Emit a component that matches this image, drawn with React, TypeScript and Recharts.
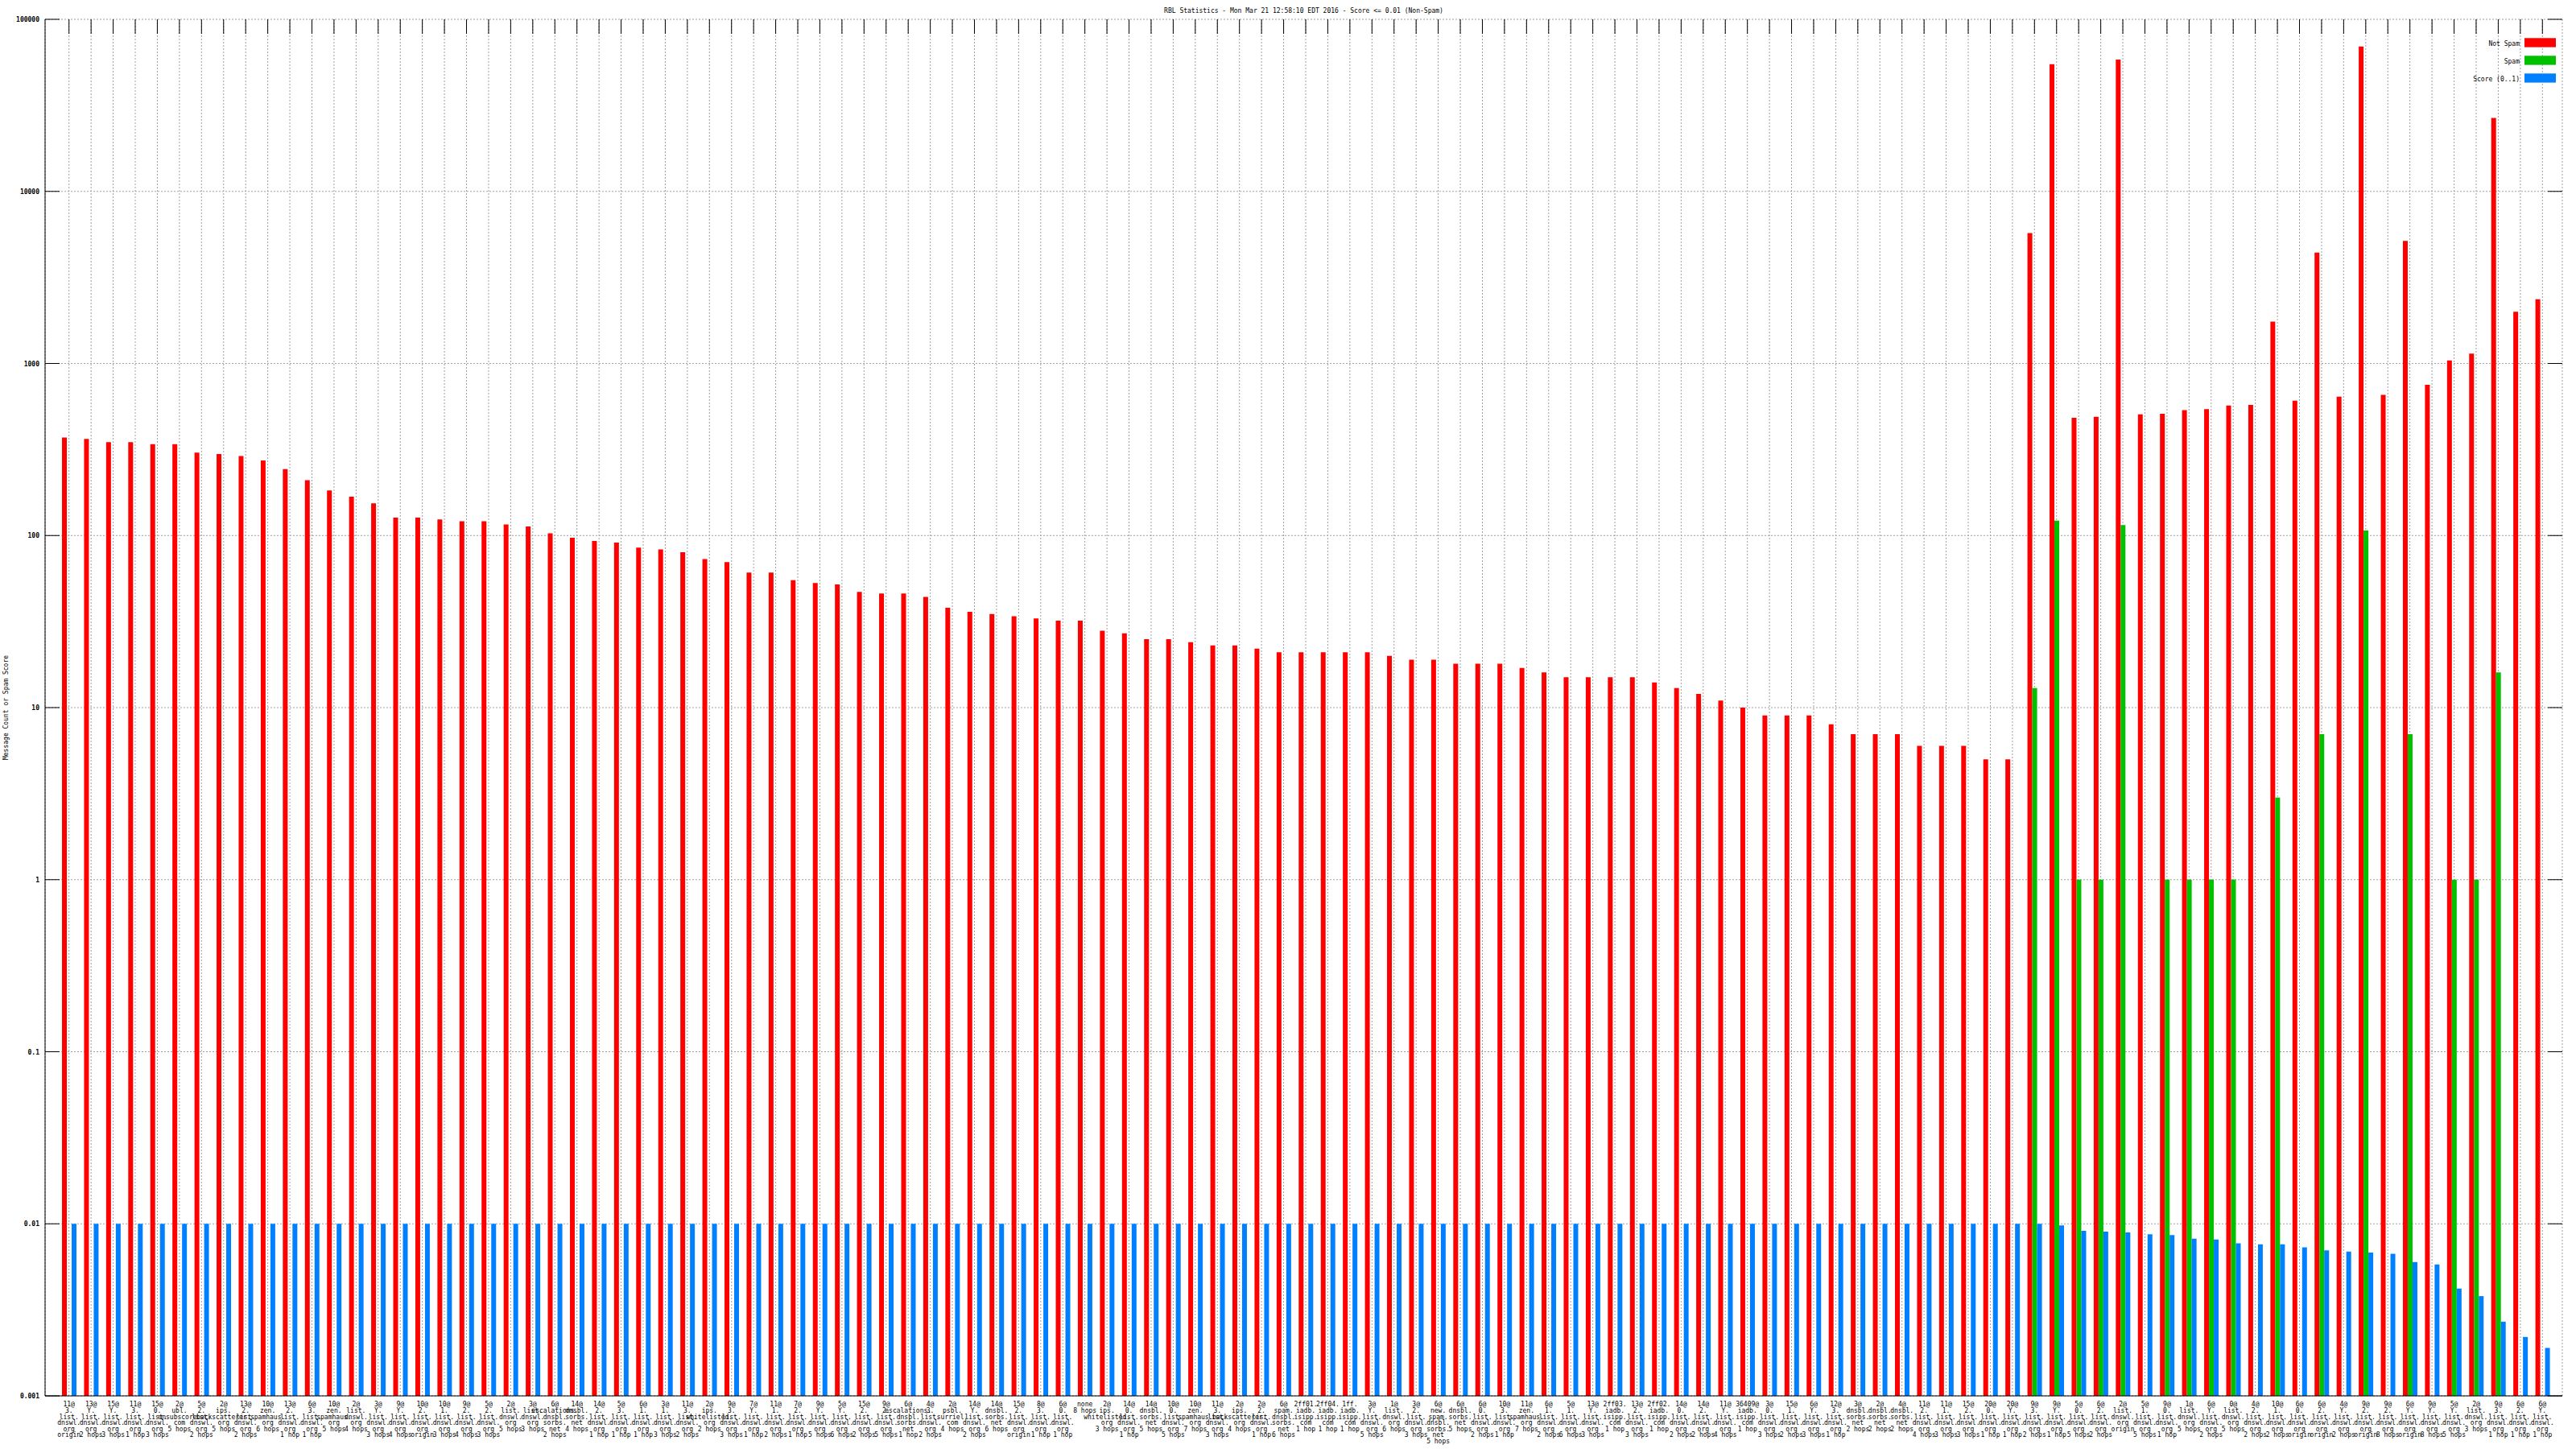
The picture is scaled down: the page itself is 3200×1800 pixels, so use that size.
import React from 'react';
import { BarChart, Bar, XAxis, YAxis, CartesianGrid } from 'recharts';

// one label per group, split into lines after "@" / "." and before the hop count
const labels = [
  '11@3.list.dnswl.org origin', '13@Y.list.dnswl.org 2 hops', '15@Y.list.dnswl.org 3 hops', '11@3.list.dnswl.org 1 hop',
  '15@0.list.dnswl.org 3 hops', '2@ubl.unsubscore.com 5 hops', '5@2.list.dnswl.org 2 hops', '2@ips.backscatterer.org 5 hops',
  '13@2.list.dnswl.org 2 hops', '10@zen.spamhaus.org 6 hops', '13@2.list.dnswl.org 1 hop', '6@3.list.dnswl.org 1 hop',
  '10@zen.spamhaus.org 5 hops', '2@list.dnswl.org 4 hops', '3@Y.list.dnswl.org 3 hops', '9@Y.list.dnswl.org 4 hops',
  '10@2.list.dnswl.org origin', '10@1.list.dnswl.org 3 hops', '9@2.list.dnswl.org 4 hops', '5@2.list.dnswl.org 3 hops',
  '2@list.dnswl.org 5 hops', '3@list.dnswl.org 3 hops', '6@escalations.dnsbl.sorbs.net 2 hops', '14@dnsbl.sorbs.net 4 hops',
  '14@2.list.dnswl.org 1 hop', '5@3.list.dnswl.org 1 hop', '6@1.list.dnswl.org 1 hop', '3@1.list.dnswl.org 3 hops',
  '11@3.list.dnswl.org 2 hops', '2@ips.whitelisted.org 2 hops', '9@3.list.dnswl.org 3 hops', '7@Y.list.dnswl.org 1 hop',
  '11@1.list.dnswl.org 2 hops', '7@2.list.dnswl.org 1 hop', '9@Y.list.dnswl.org 5 hops', '5@Y.list.dnswl.org 6 hops',
  '15@2.list.dnswl.org 2 hops', '9@2.list.dnswl.org 5 hops', '6@escalations.dnsbl.sorbs.net 1 hop', '4@3.list.dnswl.org 2 hops',
  '2@psbl.surriel.com 4 hops', '14@Y.list.dnswl.org 2 hops', '14@dnsbl.sorbs.net 6 hops', '15@2.list.dnswl.org origin',
  '8@3.list.dnswl.org 1 hop', '6@0.list.dnswl.org 1 hop', 'none 8 hops', '2@ips.whitelisted.org 3 hops',
  '14@0.list.dnswl.org 1 hop', '14@dnsbl.sorbs.net 5 hops', '10@0.list.dnswl.org 5 hops', '10@zen.spamhaus.org 7 hops',
  '11@3.list.dnswl.org 3 hops', '2@ips.backscatterer.org 4 hops', '2@2.list.dnswl.org 1 hop', '6@spam.dnsbl.sorbs.net 6 hops',
  '2ff01.iadb.isipp.com 1 hop', '2ff04.iadb.isipp.com 1 hop', '1ff.iadb.isipp.com 1 hop', '3@Y.list.dnswl.org 5 hops',
  '1@list.dnswl.org 6 hops', '3@2.list.dnswl.org 3 hops', '6@new.spam.dnsbl.sorbs.net 5 hops', '6@dnsbl.sorbs.net 5 hops',
  '6@0.list.dnswl.org 2 hops', '10@3.list.dnswl.org 1 hop', '11@zen.spamhaus.org 7 hops', '6@1.list.dnswl.org 2 hops',
  '5@1.list.dnswl.org 6 hops', '13@Y.list.dnswl.org 3 hops', '2ff03.iadb.isipp.com 1 hop', '13@2.list.dnswl.org 3 hops',
  '2ff02.iadb.isipp.com 1 hop', '14@0.list.dnswl.org 2 hops', '14@2.list.dnswl.org 2 hops', '11@Y.list.dnswl.org 4 hops',
  '36409@iadb.isipp.com 1 hop', '3@0.list.dnswl.org 3 hops', '15@1.list.dnswl.org 2 hops', '6@Y.list.dnswl.org 3 hops',
  '12@3.list.dnswl.org 1 hop', '3@dnsbl.sorbs.net 2 hops', '2@dnsbl.sorbs.net 2 hops', '4@dnsbl.sorbs.net 2 hops',
  '11@2.list.dnswl.org 4 hops', '11@1.list.dnswl.org 3 hops', '15@2.list.dnswl.org 3 hops', '20@0.list.dnswl.org 1 hop',
  '20@Y.list.dnswl.org 1 hop', '9@3.list.dnswl.org 2 hops', '9@Y.list.dnswl.org 1 hop', '5@0.list.dnswl.org 5 hops',
  '6@2.list.dnswl.org 2 hops', '2@list.dnswl.org origin', '5@1.list.dnswl.org 5 hops', '9@0.list.dnswl.org 1 hop',
  '1@list.dnswl.org 5 hops', '6@Y.list.dnswl.org 2 hops', '0@list.dnswl.org 5 hops', '4@2.list.dnswl.org 2 hops',
  '10@1.list.dnswl.org 2 hops', '6@0.list.dnswl.org origin', '6@2.list.dnswl.org origin', '4@Y.list.dnswl.org 2 hops',
  '9@2.list.dnswl.org origin', '9@2.list.dnswl.org 8 hops', '6@Y.list.dnswl.org origin', '9@Y.list.dnswl.org 8 hops',
  '5@Y.list.dnswl.org 5 hops', '2@list.dnswl.org 3 hops', '9@3.list.dnswl.org 1 hop', '6@2.list.dnswl.org 1 hop',
  '6@Y.list.dnswl.org 1 hop',
];

const notSpam = [
  371, 364, 349, 349, 340, 340, 303, 298, 290, 273, 243, 210, 183, 168, 154, 127,
  127, 124, 121, 121, 116, 113, 103, 97, 93, 91, 85, 83, 80, 73, 70, 61,
  61, 55, 53, 52, 47, 46, 46, 44, 38, 36, 35, 34, 33, 32, 32, 28,
  27, 25, 25, 24, 23, 23, 22, 21, 21, 21, 21, 21, 20, 19, 19, 18,
  18, 18, 17, 16, 15, 15, 15, 15, 14, 13, 12, 11, 10, 9, 9, 9,
  8, 7, 7, 7, 6, 6, 6, 5, 5,
  5730, 54800, 483, 490, 58400, 506, 510, 535, 543, 570, 574, 1750,
  607, 4410, 641, 69500, 657, 5160, 751, 1040, 1140, 26700, 2000, 2360,
];

const spam = [
  null, null, null, null, null, null, null, null, null, null, null, null, null, null, null, null,
  null, null, null, null, null, null, null, null, null, null, null, null, null, null, null, null,
  null, null, null, null, null, null, null, null, null, null, null, null, null, null, null, null,
  null, null, null, null, null, null, null, null, null, null, null, null, null, null, null, null,
  null, null, null, null, null, null, null, null, null, null, null, null, null, null, null, null,
  null, null, null, null, null, null, null, null, null,
  13, 122, 1, 1, 115, null, 1, 1, 1, 1, null, 3,
  null, 7, null, 107, null, 7, null, 1, 1, 16, null, null,
];

const score = [
  0.01, 0.01, 0.01, 0.01, 0.01, 0.01, 0.01, 0.01, 0.01, 0.01, 0.01, 0.01, 0.01, 0.01, 0.01, 0.01,
  0.01, 0.01, 0.01, 0.01, 0.01, 0.01, 0.01, 0.01, 0.01, 0.01, 0.01, 0.01, 0.01, 0.01, 0.01, 0.01,
  0.01, 0.01, 0.01, 0.01, 0.01, 0.01, 0.01, 0.01, 0.01, 0.01, 0.01, 0.01, 0.01, 0.01, 0.01, 0.01,
  0.01, 0.01, 0.01, 0.01, 0.01, 0.01, 0.01, 0.01, 0.01, 0.01, 0.01, 0.01, 0.01, 0.01, 0.01, 0.01,
  0.01, 0.01, 0.01, 0.01, 0.01, 0.01, 0.01, 0.01, 0.01, 0.01, 0.01, 0.01, 0.01, 0.01, 0.01, 0.01,
  0.01, 0.01, 0.01, 0.01, 0.01, 0.01, 0.01, 0.01, 0.01,
  0.01, 0.0098, 0.0091, 0.009, 0.0089, 0.0087, 0.0086, 0.0082, 0.0081, 0.0077, 0.0076, 0.0076,
  0.0073, 0.007, 0.0069, 0.0068, 0.0067, 0.006, 0.0058, 0.0042, 0.0038, 0.0027, 0.0022, 0.0019,
];

const majorTicks = [0.001, 0.01, 0.1, 1, 10, 100, 1000, 10000, 100000];
const minorTicks = [
  0.002, 0.005, 0.008, 0.02, 0.05, 0.08, 0.2, 0.5, 0.8, 2, 5, 8,
  20, 50, 80, 200, 500, 800, 2000, 5000, 8000, 20000, 50000, 80000,
];

const legendItems = [
  { name: 'Not Spam', color: '#ff0000' },
  { name: 'Spam', color: '#00c000' },
  { name: 'Score (0..1)', color: '#0080ff' },
];

const W = 3200;
const H = 1800;
const PLOT_LEFT = 56;
const PLOT_RIGHT = 3183;
const PLOT_TOP = 24;
const PLOT_BOTTOM = 1734;
const FONT = '"DejaVu Sans Mono", "Liberation Mono", monospace';

const data = labels.map((_, i) => ({
  id: String(i),
  notSpam: notSpam[i],
  spam: spam[i],
  score: score[i],
}));

const splitLabel = (s: string) => {
  const m = s.match(/^(.*) (\d+ hops?|origin)$/);
  const main = m ? m[1] : s;
  const parts = main.split(/(?<=[@.])/);
  return m ? [...parts, m[2]] : parts;
};

const XTick = (props: any) => {
  const { x, payload } = props;
  const lines = splitLabel(labels[Number(payload.value)]);
  return (
    <g>
      <line x1={x} x2={x} y1={PLOT_TOP} y2={PLOT_TOP + 18} stroke="#000" />
      <text textAnchor="middle" fontSize={8} fontFamily={FONT} fill="#000">
        {lines.map((l, k) => (
          <tspan key={k} x={x} y={PLOT_BOTTOM + 13.3 + k * 7.6}>{l}</tspan>
        ))}
      </text>
    </g>
  );
};

const YTick = (props: any) => {
  const { y, payload } = props;
  return (
    <g>
      <line x1={PLOT_LEFT} x2={PLOT_LEFT + 18} y1={y} y2={y} stroke="#000" />
      <line x1={PLOT_RIGHT} x2={PLOT_RIGHT - 18} y1={y} y2={y} stroke="#000" />
      <text x={PLOT_LEFT - 7} y={y + 3} textAnchor="end" fontSize={8} fontWeight="bold" fontFamily={FONT} fill="#000">
        {String(payload.value)}
      </text>
    </g>
  );
};

const MinorTick = (props: any) => {
  const { y } = props;
  return (
    <g>
      <line x1={PLOT_LEFT} x2={PLOT_LEFT + 9} y1={y} y2={y} stroke="#000" />
      <line x1={PLOT_RIGHT} x2={PLOT_RIGHT - 9} y1={y} y2={y} stroke="#000" />
    </g>
  );
};

const App = () => {
  const padding = { left: 16, right: 11 };
  return (
    <div style={{ position: 'absolute', left: 0, top: 0, width: W, height: H, background: '#fff' }}>
      <BarChart
        width={W}
        height={H}
        data={data}
        margin={{ top: PLOT_TOP, right: W - PLOT_RIGHT, left: 0, bottom: 0 }}
        barGap={0}
      >
        <CartesianGrid stroke="#a0a0a0" strokeDasharray="2 2" />
        <XAxis
          dataKey="id"
          interval={0}
          height={H - PLOT_BOTTOM}
          padding={padding}
          tick={XTick}
          tickLine={false}
          axisLine={{ stroke: '#000' }}
        />
        <XAxis
          xAxisId="top"
          dataKey="id"
          orientation="top"
          height={0}
          padding={padding}
          tick={false}
          tickLine={false}
          axisLine={{ stroke: '#000' }}
        />
        <YAxis
          scale="log"
          domain={[0.001, 100000]}
          allowDataOverflow
          ticks={majorTicks}
          width={PLOT_LEFT}
          tick={YTick}
          tickLine={false}
          axisLine={{ stroke: '#000' }}
        />
        <YAxis
          yAxisId="minor"
          scale="log"
          domain={[0.001, 100000]}
          allowDataOverflow
          ticks={minorTicks}
          width={0}
          tick={MinorTick}
          tickLine={false}
          axisLine={false}
        />
        <YAxis
          yAxisId="right"
          orientation="right"
          scale="log"
          domain={[0.001, 100000]}
          allowDataOverflow
          width={0}
          tick={false}
          tickLine={false}
          axisLine={{ stroke: '#000' }}
        />
        <Bar dataKey="notSpam" fill="#ff0000" barSize={6} isAnimationActive={false} />
        <Bar dataKey="spam" fill="#00c000" barSize={6} isAnimationActive={false} />
        <Bar dataKey="score" fill="#0080ff" barSize={6} isAnimationActive={false} />
      </BarChart>
      <svg
        width={W}
        height={H}
        style={{ position: 'absolute', left: 0, top: 0, pointerEvents: 'none' }}
      >
        <text x={(PLOT_LEFT + PLOT_RIGHT) / 2} y={16} textAnchor="middle" fontSize={8} fontFamily={FONT} fill="#000">
          RBL Statistics - Mon Mar 21 12:58:10 EDT 2016 - Score &lt;= 0.01 (Non-Spam)
        </text>
        <text
          x={9.5}
          y={(PLOT_TOP + PLOT_BOTTOM) / 2}
          transform={`rotate(-90, 9.5, ${(PLOT_TOP + PLOT_BOTTOM) / 2})`}
          textAnchor="middle"
          fontSize={8}
          fontFamily={FONT}
          fill="#000"
        >
          Message Count or Spam Score
        </text>
        {legendItems.map((item, i) => (
          <g key={item.name}>
            <text x={3130} y={56.7 + i * 22} textAnchor="end" fontSize={8} fontFamily={FONT} fill="#000">
              {item.name}
            </text>
            <rect x={3136} y={47.3 + i * 22} width={39} height={11.3} fill={item.color} />
          </g>
        ))}
      </svg>
    </div>
  );
};

export default App;
